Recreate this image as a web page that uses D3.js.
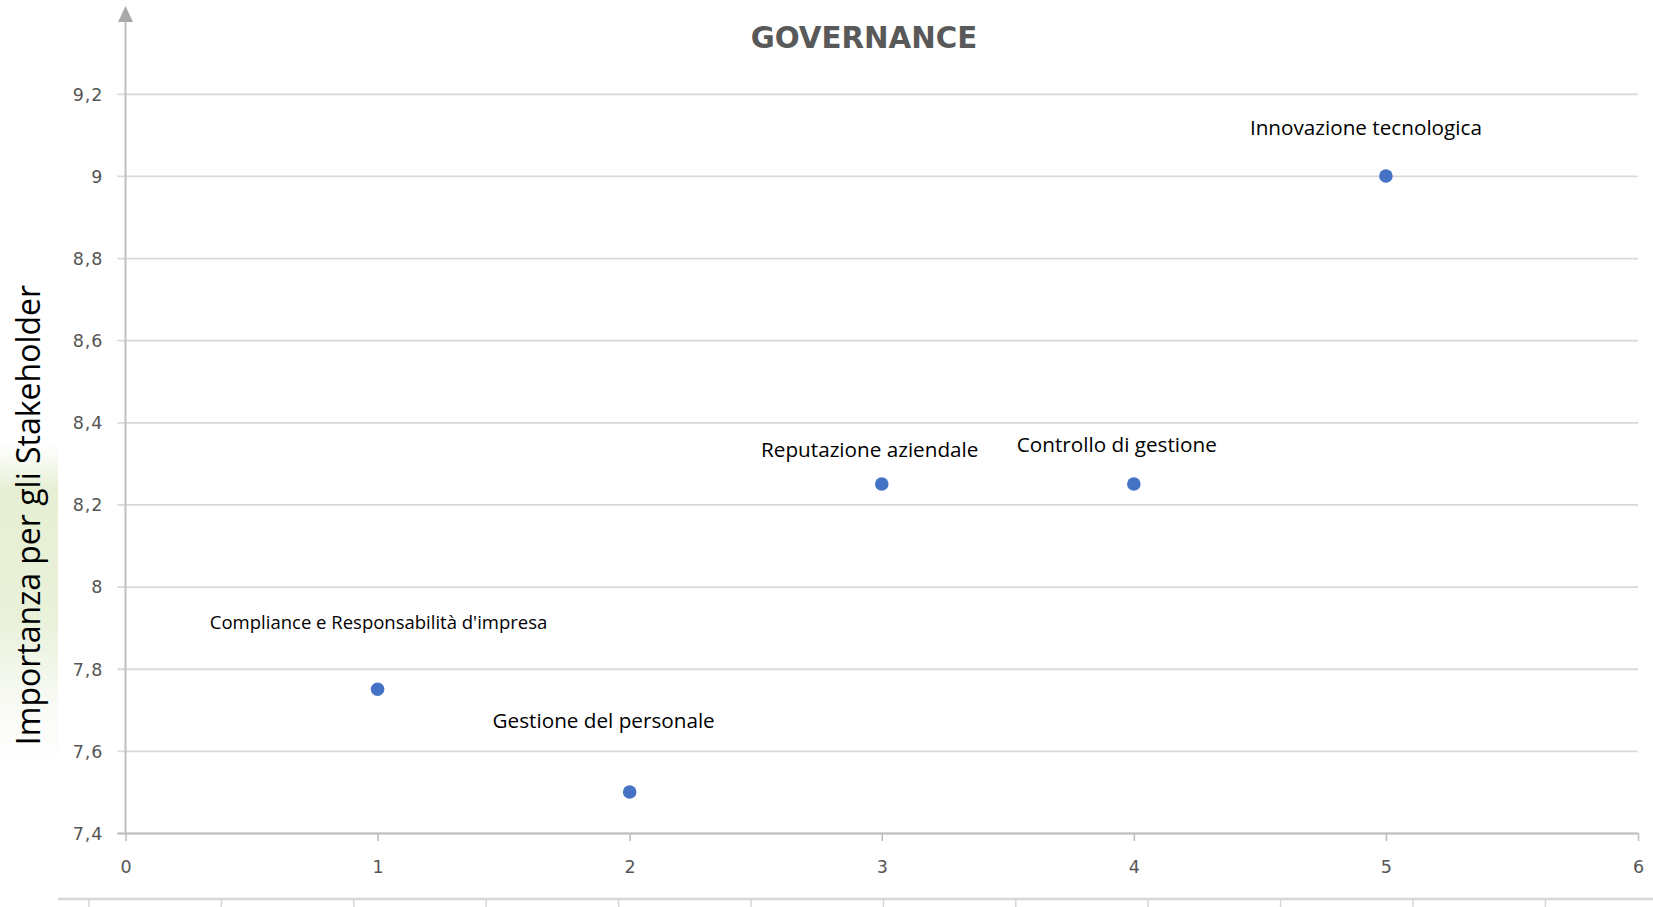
<!DOCTYPE html>
<html>
<head>
<meta charset="utf-8">
<script src="https://cdn.jsdelivr.net/npm/d3@7"></script>
<style>
  html, body { margin: 0; padding: 0; background: #ffffff; }
  svg { display: block; }
</style>
</head>
<body>
<svg id="chart" width="1653" height="907"></svg>
<script>
// ---- data ----
const categories = [
  "Compliance e Responsabilità d'impresa",
  "Gestione del personale",
  "Reputazione aziendale",
  "Controllo di gestione",
  "Innovazione tecnologica"
];
const xValues = [1, 2, 3, 4, 5];
const yValues = [7.75, 7.5, 8.25, 8.25, 9];
const xTicks = [0, 1, 2, 3, 4, 5, 6];
const yTicks = [7.4, 7.6, 7.8, 8, 8.2, 8.4, 8.6, 8.8, 9, 9.2];
const titleText = "GOVERNANCE";
const yAxisTitle = "Importanza per gli Stakeholder";

// ---- layout / style (not data) ----
const W = 1653, H = 907;
const plot = { left: 125.5, right: 1638, top: 93.8, bottom: 833 };
// label offsets relative to the point (px), font size
const labelStyle = [
  { dx: 1,   dy: -60, size: 18.5 },
  { dx: -26, dy: -64, size: 20.7 },
  { dx: -12, dy: -27, size: 20.7 },
  { dx: -17, dy: -32, size: 20.7 },
  { dx: -20, dy: -41, size: 20.7 }
];

const svg = d3.select("#chart");

// faint green background remnant on the left
const defs = svg.append("defs");
const g1 = defs.append("linearGradient").attr("id", "greenV")
  .attr("x1", 0).attr("y1", 0).attr("x2", 0).attr("y2", 1);
g1.append("stop").attr("offset", "0%").attr("stop-color", "#eef4e2").attr("stop-opacity", 0);
g1.append("stop").attr("offset", "15%").attr("stop-color", "#e6efd3").attr("stop-opacity", 1);
g1.append("stop").attr("offset", "55%").attr("stop-color", "#e9f1da").attr("stop-opacity", 1);
g1.append("stop").attr("offset", "100%").attr("stop-color", "#f4f7ee").attr("stop-opacity", 0);
svg.append("rect").attr("x", 0).attr("y", 440).attr("width", 58).attr("height", 330)
  .attr("fill", "url(#greenV)");

const x = d3.scaleLinear().domain([0, 6]).range([plot.left, plot.right]);
const y = d3.scaleLinear().domain([7.4, 9.2]).range([plot.bottom, plot.top]);

// gridlines (y axis with long ticks)
const yAxis = d3.axisLeft(y)
  .tickValues(yTicks)
  .tickSize(-(plot.right - plot.left))
  .tickPadding(0)
  .tickFormat(d => d3.format("")(+d.toFixed(1)).replace(".", ","));
const gy = svg.append("g").attr("transform", `translate(${plot.left},0)`).call(yAxis);
gy.select(".domain").remove();
gy.selectAll(".tick line")
  .attr("x1", -8)
  .attr("stroke", "#d9d9d9")
  .attr("stroke-width", 1.8);
gy.selectAll(".tick text")
  .attr("x", -22)
  .attr("dy", "0.36em")
  .attr("fill", "#555555")
  .style("font-family", "'DejaVu Sans', sans-serif")
  .style("font-size", "17.5px")
  .style("letter-spacing", "1px");

// x axis
const xAxis = d3.axisBottom(x).tickValues(xTicks).tickSize(8).tickPadding(19)
  .tickFormat(d3.format("d"));
const gx = svg.append("g").attr("transform", `translate(0,${plot.bottom})`).call(xAxis);
gx.select(".domain")
  .attr("d", `M${plot.left - 8},0.5H${plot.right}`)
  .attr("stroke", "#bfbfbf").attr("stroke-width", 1.8);
gx.selectAll(".tick line").attr("stroke", "#bfbfbf").attr("stroke-width", 1.6);
gx.selectAll(".tick text")
  .attr("fill", "#555555")
  .attr("dy", "0.76em")
  .style("font-family", "'DejaVu Sans', sans-serif")
  .style("font-size", "17.5px");

// y axis vertical line with arrow
svg.append("line")
  .attr("x1", plot.left).attr("x2", plot.left)
  .attr("y1", 20).attr("y2", plot.bottom)
  .attr("stroke", "#bfbfbf").attr("stroke-width", 2);
svg.append("path")
  .attr("d", `M${plot.left},6 L${plot.left + 7.5},22 L${plot.left - 7.5},22 Z`)
  .attr("fill", "#a9a9a9");

// title
svg.append("text")
  .attr("x", 864).attr("y", 48)
  .attr("text-anchor", "middle")
  .attr("fill", "#595959")
  .style("font-family", "'DejaVu Sans', sans-serif")
  .style("font-weight", "bold")
  .style("font-size", "29.3px")
  .text(titleText);

// y axis title
svg.append("text")
  .attr("transform", "translate(40,515) rotate(-90)")
  .attr("text-anchor", "middle")
  .attr("fill", "#000")
  .style("font-family", "'Open Sans', sans-serif")
  .style("font-size", "32px")
  .text(yAxisTitle);

// points
const pts = categories.map((c, i) => ({ name: c, x: xValues[i], y: yValues[i], s: labelStyle[i] }));
svg.append("g").selectAll("circle").data(pts).join("circle")
  .attr("cx", d => x(d.x)).attr("cy", d => y(d.y))
  .attr("r", 6.8)
  .attr("fill", "#4472c4");

// labels
svg.append("g").selectAll("text").data(pts).join("text")
  .attr("x", d => x(d.x) + d.s.dx)
  .attr("y", d => y(d.y) + d.s.dy)
  .attr("text-anchor", "middle")
  .attr("fill", "#000")
  .style("font-family", "'Open Sans', sans-serif")
  .style("font-size", d => d.s.size + "px")
  .text(d => d.name);

// bottom decorative border (table edge below the chart)
svg.append("line").attr("x1", 58).attr("x2", W).attr("y1", 899).attr("y2", 899)
  .attr("stroke", "#d6d6d6").attr("stroke-width", 2.5);
svg.append("g").selectAll("line").data(d3.range(12)).join("line")
  .attr("x1", i => 89 + 132.4 * i).attr("x2", i => 89 + 132.4 * i)
  .attr("y1", 900).attr("y2", H)
  .attr("stroke", "#d6d6d6").attr("stroke-width", 1.5);
</script>
</body>
</html>
